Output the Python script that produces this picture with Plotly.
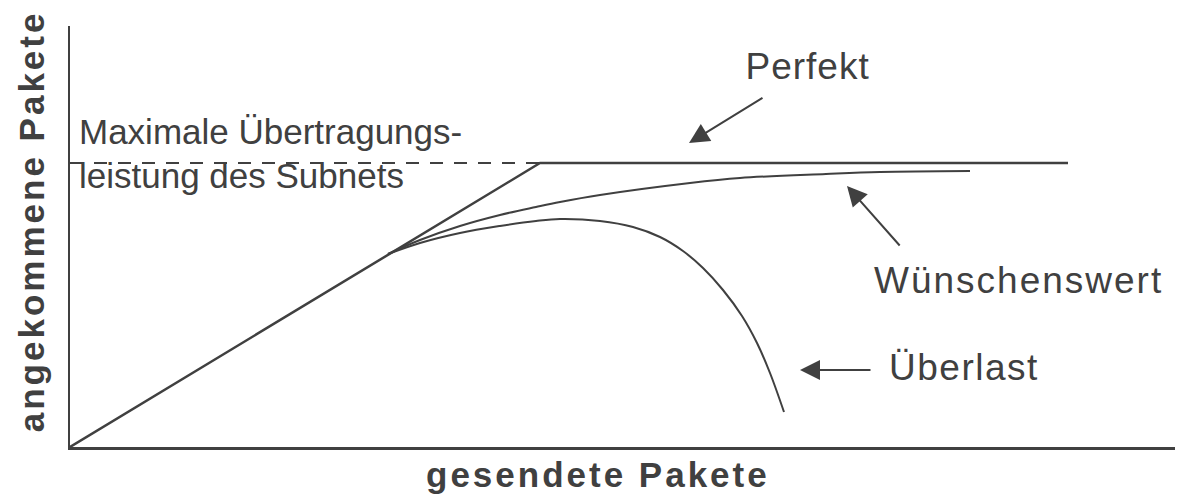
import plotly.graph_objects as go

# --- data (arbitrary units: gesendete vs. angekommene Pakete) ---
perfekt_x = [0, 470, 998]
perfekt_y = [0, 284, 284]

kapazitaet_x = [0, 470]
kapazitaet_y = [284, 284]

wunsch_x = [318, 350, 390, 430, 466, 490, 530, 620, 670, 756, 810, 900]
wunsch_y = [193, 207, 221, 232, 240, 245, 252, 264, 269, 273, 275, 276]

ueberlast_x = [318, 350, 390, 430, 466, 490, 530, 563, 590, 613, 633, 653, 672, 687, 700, 714]
ueberlast_y = [193, 204, 214, 221, 226, 228, 226, 220, 210, 196, 179, 157, 131, 104, 74, 35]

x_range = [0, 1105]
y_range = [0, 421]

labels = [
    ("Perfekt", 737.5, 380.5),
    ("Wünschenswert", 948.5, 166.5),
    ("Überlast", 893.5, 79.8),
]
kap_lines = [("Maximale Übertragungs-", 7, 315.8), ("leistung des Subnets", 7, 271.6)]

# arrows: (head_x, head_y, tail_x, tail_y)
arrows = [
    (619, 304, 694, 350),
    (777, 261, 831, 200),
    (730, 77, 802, 77),
]

x_title = "gesendete Pakete"
y_title = "angekommene Pakete"

INK = "#404040"
FONT = "Liberation Sans, Arial, sans-serif"

fig = go.Figure()
fig.add_trace(go.Scatter(x=kapazitaet_x, y=kapazitaet_y, mode="lines",
                         line=dict(color=INK, width=2, dash="13px,11px"),
                         hoverinfo="skip", showlegend=False))
fig.add_trace(go.Scatter(x=perfekt_x, y=perfekt_y, mode="lines",
                         line=dict(color=INK, width=2.5),
                         hoverinfo="skip", showlegend=False))
fig.add_trace(go.Scatter(x=wunsch_x, y=wunsch_y, mode="lines",
                         line=dict(color=INK, width=2, shape="spline", smoothing=1),
                         hoverinfo="skip", showlegend=False))
fig.add_trace(go.Scatter(x=ueberlast_x, y=ueberlast_y, mode="lines",
                         line=dict(color=INK, width=2, shape="spline", smoothing=1),
                         hoverinfo="skip", showlegend=False))

annotations = []
for text, x, y in labels:
    annotations.append(dict(text=text, x=x, y=y, xref="x", yref="y",
                            xanchor="center", yanchor="middle", showarrow=False,
                            font=dict(family=FONT, size=37, color=INK)))
for text, x, y in kap_lines:
    annotations.append(dict(text=text, x=x, y=y, xref="x", yref="y",
                            xanchor="left", yanchor="middle", showarrow=False,
                            font=dict(family=FONT, size=35, color=INK)))
for hx, hy, tx, ty in arrows:
    annotations.append(dict(text="", x=hx, y=hy, ax=tx, ay=ty, xref="x", yref="y",
                            axref="x", ayref="y", showarrow=True, arrowhead=2,
                            arrowsize=2, arrowwidth=2, arrowcolor=INK))
# axis titles (paper coordinates, outside plot area)
annotations.append(dict(text="<b>" + x_title + "</b>", x=0.4778, y=-0.0656, xref="paper", yref="paper",
                        xanchor="center", yanchor="middle", showarrow=False,
                        font=dict(family=FONT, size=35, color=INK)))
annotations.append(dict(text="<b>" + y_title + "</b>", x=-0.0351, y=0.5368, xref="paper", yref="paper",
                        xanchor="center", yanchor="middle", showarrow=False, textangle=-90,
                        font=dict(family=FONT, size=35, color=INK)))

fig.update_layout(
    width=1190, height=499,
    margin=dict(l=70, r=15, t=26, b=52),
    paper_bgcolor="white", plot_bgcolor="white",
    showlegend=False,
    annotations=annotations,
    xaxis=dict(range=x_range, showgrid=False, zeroline=False, showticklabels=False,
               ticks="", showline=True, linecolor=INK, linewidth=3, fixedrange=True),
    yaxis=dict(range=y_range, showgrid=False, zeroline=False, showticklabels=False,
               ticks="", showline=True, linecolor=INK, linewidth=2.5, fixedrange=True),
)

post = """
document.body.style.margin = '0';
document.body.style.overflow = 'hidden';
var gd = document.getElementById('{plot_id}');
var sp = {'gesendete Pakete': '3px', 'angekommene Pakete': '3px',
          'Perfekt': '1px', 'Wünschenswert': '2px', 'Überlast': '1.5px'};
gd.querySelectorAll('text.annotation-text').forEach(function(t){
  var s = t.textContent;
  if (sp[s]) { t.style.letterSpacing = sp[s]; }
});
"""

fig.write_html("out.html", config=dict(displayModeBar=False, staticPlot=True), post_script=post)
